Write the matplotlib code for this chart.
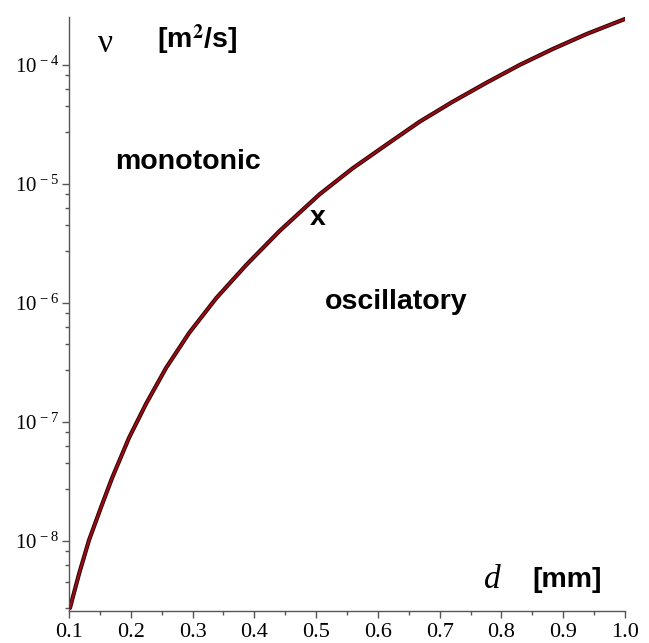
import math

import matplotlib

matplotlib.use("Agg")
import matplotlib.pyplot as plt
from matplotlib.ticker import FixedLocator, FuncFormatter, LogLocator, NullFormatter, MultipleLocator

plt.rcParams['font.family'] = ['Liberation Serif', 'DejaVu Serif']
plt.rcParams['mathtext.fontset'] = 'stix'

# boundary curve: d [mm] -> nu [m^2/s]
d_mm = [0.1016, 0.1162, 0.1324, 0.1519, 0.1697, 0.1973, 0.2249, 0.2573,
        0.2946, 0.3384, 0.3870, 0.4405, 0.5054, 0.5589, 0.6140, 0.6675,
        0.7210, 0.7762, 0.8297, 0.8832, 0.9383, 1.0]
nu = [2.75e-9, 5.3e-9, 1.02e-8, 1.93e-8, 3.39e-8, 7.41e-8, 1.43e-7, 2.86e-7,
      5.62e-7, 1.10e-6, 2.09e-6, 4.01e-6, 8.17e-6, 1.35e-5, 2.14e-5, 3.33e-5,
      4.90e-5, 7.10e-5, 1.0e-4, 1.36e-4, 1.82e-4, 2.43e-4]

x_ticks = [0.1, 0.2, 0.3, 0.4, 0.5, 0.6, 0.7, 0.8, 0.9, 1.0]
y_ticks = [1e-8, 1e-7, 1e-6, 1e-5, 1e-4]

fig = plt.figure(figsize=(6.49, 6.43), dpi=100)
ax = fig.add_axes([0.1063, 0.0498, 0.8568, 0.9238])

ax.plot(d_mm, nu, color="#2a0505", lw=3.0, solid_capstyle="round",
        solid_joinstyle="round", zorder=2)
ax.plot(d_mm, nu, color="#9a0a14", lw=1.6, solid_capstyle="round",
        solid_joinstyle="round", zorder=3)

ax.set_yscale("log")
ax.set_xlim(0.1, 1.0)
ax.set_ylim(10 ** -8.586, 10 ** -3.598)

ax.xaxis.set_major_locator(FixedLocator(x_ticks))
ax.xaxis.set_minor_locator(MultipleLocator(0.05))
ax.xaxis.set_major_formatter(FuncFormatter(lambda v, p: f"{v:.1f}"))

ax.yaxis.set_major_locator(FixedLocator(y_ticks))
ax.yaxis.set_minor_locator(LogLocator(base=10, subs=[2.75, 4.5, 6.3, 8.2]))
ax.yaxis.set_minor_formatter(NullFormatter())
ax.yaxis.set_major_formatter(
    FuncFormatter(lambda v, p: r"$\mathregular{10^{\,-%d}}$" % round(-math.log10(v))))

for s in ["top", "right"]:
    ax.spines[s].set_visible(False)
for s in ["left", "bottom"]:
    ax.spines[s].set_color("#555555")
    ax.spines[s].set_linewidth(1.0)

ax.tick_params(axis="x", which="major", length=5, width=1, color="#555555",
               labelsize=16, pad=4)
ax.tick_params(axis="x", which="minor", length=3, width=1, color="#555555")
ax.tick_params(axis="y", which="major", length=5, width=1, color="#555555",
               labelsize=15, pad=2)
ax.tick_params(axis="y", which="minor", length=3, width=1, color="#555555")

# region labels
def px(x, y):
    return x / 649, 1 - y / 643

sans = ["Liberation Sans", "DejaVu Sans"]
fig.text(*px(188, 162), "monotonic", family=sans, weight="bold", fontsize=20.5,
         ha="center", va="center")
fig.text(*px(318, 218), "x", family=sans, weight="bold", fontsize=20.5,
         ha="center", va="center")
fig.text(*px(396, 302), "oscillatory", family=sans, weight="bold", fontsize=20.5,
         ha="center", va="center")

# axis labels
fig.text(*px(105, 44), "ν", fontsize=24, ha="center", va="center")
fig.text(*px(197, 40), r"[m$^\mathbf{2}$/s]", family=sans, weight="bold", fontsize=20.5,
         ha="center", va="center")
fig.text(*px(492, 580), "d", style="italic", fontsize=24, ha="center", va="center")
fig.text(*px(567, 580), "[mm]", family=sans, weight="bold", fontsize=20.5,
         ha="center", va="center")

fig.savefig("out.png", dpi=100)
plt.close(fig)
